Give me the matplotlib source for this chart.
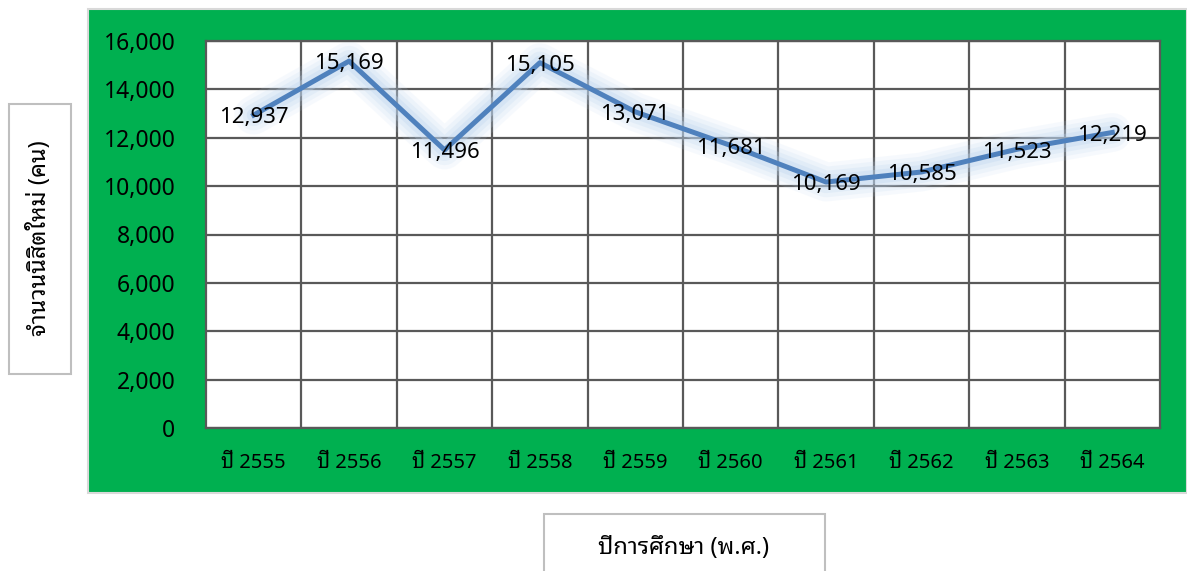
import matplotlib
matplotlib.use('Agg')
import matplotlib.pyplot as plt
from matplotlib.patches import Rectangle
from matplotlib.ticker import FixedLocator, FuncFormatter

# data
years = ['ปี 2555', 'ปี 2556', 'ปี 2557', 'ปี 2558', 'ปี 2559',
         'ปี 2560', 'ปี 2561', 'ปี 2562', 'ปี 2563', 'ปี 2564']
students = [12937, 15169, 11496, 15105, 13071, 11681, 10169, 10585, 11523, 12219]
y_ticks = [0, 2000, 4000, 6000, 8000, 10000, 12000, 14000, 16000]

THAI = ['Noto Sans Thai Looped', 'Noto Sans', 'DejaVu Sans']
plt.rcParams['font.family'] = THAI

W, H = 1187, 571
fig = plt.figure(figsize=(W / 100, H / 100), dpi=100)
fig.patch.set_facecolor('white')

# green chart panel with a light grey border
fig.patches.append(Rectangle((88 / W, 1 - 493 / H), 1 - 88 / W, (493 - 9) / H,
                             transform=fig.transFigure, facecolor='#00B050',
                             edgecolor='#D9D9D9', linewidth=1.5, zorder=-10))

ax = fig.add_axes([206 / W, 1 - 428 / H, (1160 - 206) / W, (428 - 41) / H])
ax.set_facecolor('white')

x = list(range(len(years)))
line_col = '#4F81BD'
glow_col = '#BDD5F0'
# soft glow around the line
for lw, a in [(28, 0.12), (22, 0.16), (16, 0.22), (10, 0.32)]:
    ax.plot(x, students, color=glow_col, lw=lw, alpha=a,
            solid_capstyle='round', solid_joinstyle='round', zorder=2)
ax.plot(x, students, color=line_col, lw=3.6, solid_joinstyle='round', zorder=3)

for xi, v in zip(x, students):
    ax.annotate(f'{v:,}', (xi, v), xytext=(0, -2), textcoords='offset points',
                ha='center', va='center', fontsize=16, color='black', zorder=5)

ax.set_xlim(-0.5, len(years) - 0.5)
ax.set_ylim(0, 16000)
ax.set_xticks(x)
ax.set_xticklabels(years, fontsize=14.5, color='black', fontweight='medium')
ax.xaxis.set_minor_locator(FixedLocator([i + 0.5 for i in range(len(years) - 1)]))
ax.set_yticks(y_ticks)
ax.yaxis.set_major_formatter(FuncFormatter(lambda v, p: f'{int(v):,}'))
ax.tick_params(axis='y', which='major', length=0, pad=22, labelsize=16.5, labelcolor='black')
ax.tick_params(axis='x', which='major', length=0, pad=18)
ax.tick_params(axis='x', which='minor', length=0)

grid_col = '#595959'
ax.grid(axis='y', which='major', color=grid_col, linewidth=1.6, zorder=1)
ax.grid(axis='x', which='minor', color=grid_col, linewidth=1.6, zorder=1)
ax.set_axisbelow(True)
for s in ax.spines.values():
    s.set_color(grid_col)
    s.set_linewidth(1.6)

# axis titles in white boxes
fig.patches.append(Rectangle((9 / W, 1 - 374 / H), (71 - 9) / W, (374 - 104) / H,
                             transform=fig.transFigure, facecolor='white',
                             edgecolor='#BFBFBF', linewidth=1.5, zorder=-5))
fig.text(40 / W, 1 - 238 / H, 'จำนวนนิสิตใหม่ (คน)', rotation=90,
         ha='center', va='center', fontsize=17, fontweight='bold')

fig.patches.append(Rectangle((544 / W, 1 - 575 / H), (825 - 544) / W, (575 - 514) / H,
                             transform=fig.transFigure, facecolor='white',
                             edgecolor='#BFBFBF', linewidth=1.5, zorder=-5))
fig.text(684 / W, 1 - 548 / H, 'ปีการศึกษา (พ.ศ.)',
         ha='center', va='center', fontsize=17, fontweight='bold')

fig.savefig('out.png', dpi=100)
